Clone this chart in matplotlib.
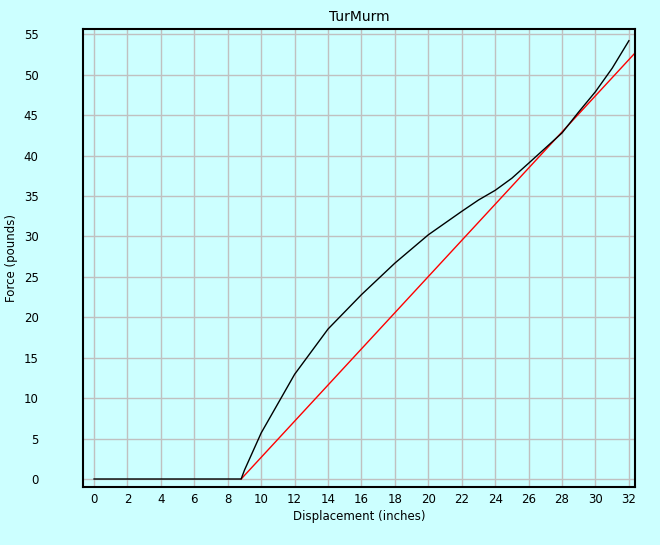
import numpy as np
import matplotlib.pyplot as plt

# measured curve
disp = [0, 8.8, 9, 10, 12, 14, 16, 18, 20, 22, 23, 24, 25, 26, 28, 29, 30, 31, 32]
force = [0, 0, 1.1, 5.7, 12.95, 18.55, 22.8, 26.7, 30.2, 33.1, 34.5, 35.7, 37.2, 39.05,
         42.8, 45.4, 47.9, 50.8, 54.2]

# straight reference line
line_x = [8.8, 33.0]
line_y = [0, 54.1]

xticks = np.arange(0, 33, 2)
yticks = np.arange(0, 56, 5)

bg = '#ccffff'

fig = plt.figure(figsize=(6.6, 5.45), dpi=100, facecolor=bg)
ax = fig.add_axes([0.1258, 0.1064, 0.8362, 0.8404], facecolor=bg)

ax.plot(line_x, line_y, color='red', lw=1)
ax.plot(disp, force, color='black', lw=1)

ax.set_xlim(-0.66, 32.36)
ax.set_ylim(-0.99, 55.65)
ax.set_xticks(xticks)
ax.set_yticks(yticks)
ax.grid(True, color='#c0c0c0', lw=1)
ax.set_axisbelow(True)
ax.tick_params(length=0, labelsize=8.5)
ax.tick_params(axis='y', pad=32)
ax.tick_params(axis='x', pad=4)
for s in ax.spines.values():
    s.set_linewidth(1.5)

ax.set_xlabel('Displacement (inches)', fontsize=8.5, labelpad=3)
ax.set_ylabel('Force (pounds)', fontsize=8.5)
ax.yaxis.set_label_coords(-0.118, 0.5)
ax.set_title('TurMurm', fontsize=10, pad=6)

fig.savefig('out.png', dpi=100, facecolor=bg)
